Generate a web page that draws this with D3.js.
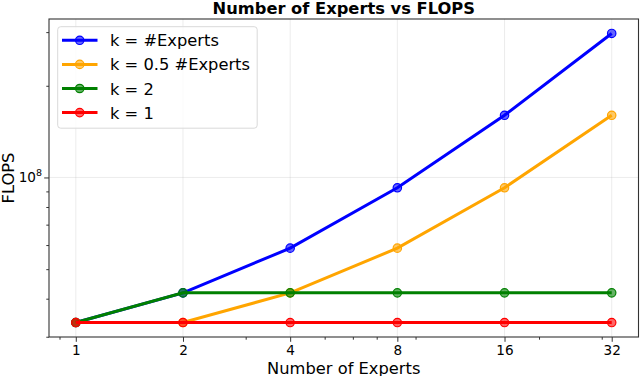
<!DOCTYPE html>
<html lang="en">
<head>
    <meta charset="UTF-8">
    <title>Number of Experts vs FLOPS</title>
    <style>
        body {
            margin: 0;
            background-color: white;
        }
        svg {
            font-family: "DejaVu Sans", sans-serif;
        }
    </style>
</head>
<body>
    <svg width="640" height="376"></svg>
    <script src="https://d3js.org/d3.v7.min.js"></script>
    <script>
        // data
        const experts = [1, 2, 4, 8, 16, 32];
        const flopsAll = [3.34e7, 4.18e7, 5.86e7, 9.25e7, 1.6e8, 2.97e8];
        const flopsHalf = [3.34e7, 3.34e7, 4.18e7, 5.86e7, 9.25e7, 1.6e8];
        const flopsTwo = [3.34e7, 4.18e7, 4.18e7, 4.18e7, 4.18e7, 4.18e7];
        const flopsOne = [3.34e7, 3.34e7, 3.34e7, 3.34e7, 3.34e7, 3.34e7];
        const seriesNames = ["k = #Experts", "k = 0.5 #Experts", "k = 2", "k = 1"];
        const seriesColors = ["#0000ff", "#ffa500", "#008000", "#ff0000"];
        const xMinorTicks = [0.9, 3, 5, 6, 7, 9, 20, 30];
        const yMajorTicks = [1e8];
        const yMinorTicks = [3e7, 4e7, 5e7, 6e7, 7e7, 8e7, 9e7, 2e8, 3e8];

        const series = [flopsAll, flopsHalf, flopsTwo, flopsOne].map((vals, i) => ({
            name: seriesNames[i],
            color: seriesColors[i],
            points: vals.map((v, j) => ({ x: experts[j], y: v }))
        }));

        const svg = d3.select("svg");
        const pLeft = 49, pRight = 638.5, pTop = 19, pBottom = 337;

        // matplotlib style 5% margins in log space
        const x = d3.scaleLog().base(2)
            .domain([Math.pow(2, -0.25), Math.pow(2, 5.25)])
            .range([pLeft, pRight]);
        const yLo = Math.log10(3.34e7), yHi = Math.log10(2.97e8), pad = (yHi - yLo) * 0.05;
        const y = d3.scaleLog()
            .domain([Math.pow(10, yLo - pad), Math.pow(10, yHi + pad)])
            .range([pBottom, pTop]);

        // grid
        const grid = svg.append("g").attr("stroke", "#b0b0b0").attr("stroke-opacity", 0.3).attr("stroke-width", 0.8);
        grid.selectAll(".gx").data(experts).join("line")
            .attr("x1", d => x(d)).attr("x2", d => x(d))
            .attr("y1", pTop).attr("y2", pBottom);
        grid.selectAll(".gy").data(yMajorTicks).join("line")
            .attr("x1", pLeft).attr("x2", pRight)
            .attr("y1", d => y(d)).attr("y2", d => y(d));

        // axes
        const xAxis = svg.append("g").attr("transform", `translate(0,${pBottom})`)
            .call(d3.axisBottom(x).tickValues(experts).tickFormat(d3.format("d")).tickSize(4.8).tickPadding(3.5));
        svg.append("g").attr("transform", `translate(0,${pBottom})`)
            .call(d3.axisBottom(x).tickValues(xMinorTicks).tickFormat("").tickSize(2.7));
        svg.append("g").attr("transform", `translate(${pLeft},0)`)
            .call(d3.axisLeft(y).tickValues(yMajorTicks).tickFormat("").tickSize(4.8));
        svg.append("g").attr("transform", `translate(${pLeft},0)`)
            .call(d3.axisLeft(y).tickValues(yMinorTicks.filter(v => y(v) >= pTop && y(v) <= pBottom)).tickFormat("").tickSize(2.7));

        xAxis.selectAll("text").attr("font-size", 13.6).attr("fill", "#000").attr("font-family", "DejaVu Sans");
        svg.selectAll(".domain").remove();
        svg.selectAll(".tick line").attr("stroke", "#333");

        // y tick label 10^8
        yMajorTicks.forEach(v => {
            const t = svg.append("text")
                .attr("x", pLeft - 7).attr("y", y(v) + 5)
                .attr("text-anchor", "end")
                .attr("font-size", 13.6);
            t.append("tspan").text("10");
            t.append("tspan").attr("font-size", 9.5).attr("dy", -6).text(Math.round(Math.log10(v)));
        });

        // series
        const line = d3.line().x(d => x(d.x)).y(d => y(d.y));
        series.forEach(s => {
            const g = svg.append("g");
            g.append("path").datum(s.points)
                .attr("d", line)
                .attr("fill", "none")
                .attr("stroke", s.color)
                .attr("stroke-width", 3);
            g.selectAll("circle").data(s.points).join("circle")
                .attr("cx", d => x(d.x)).attr("cy", d => y(d.y))
                .attr("r", 4.2)
                .attr("fill", s.color).attr("fill-opacity", 0.6)
                .attr("stroke", s.color).attr("stroke-width", 1.2);
        });

        // frame
        svg.append("rect")
            .attr("x", pLeft).attr("y", pTop)
            .attr("width", pRight - pLeft).attr("height", pBottom - pTop)
            .attr("fill", "none").attr("stroke", "#333").attr("stroke-width", 1.1);

        // labels
        svg.append("text")
            .attr("x", (pLeft + pRight) / 2).attr("y", 13.5)
            .attr("text-anchor", "middle")
            .attr("font-size", 16.3).attr("font-weight", "bold")
            .text("Number of Experts vs FLOPS");
        svg.append("text")
            .attr("x", (pLeft + pRight) / 2).attr("y", 373.5)
            .attr("text-anchor", "middle")
            .attr("font-size", 16.3)
            .text("Number of Experts");
        svg.append("text")
            .attr("transform", `translate(13.5,${(pTop + pBottom) / 2}) rotate(-90)`)
            .attr("text-anchor", "middle")
            .attr("font-size", 16.3)
            .text("FLOPS");

        // legend
        const legend = svg.append("g");
        legend.append("rect")
            .attr("x", 57.7).attr("y", 26.7)
            .attr("width", 199.5).attr("height", 101.5)
            .attr("rx", 3)
            .attr("fill", "white").attr("fill-opacity", 0.8)
            .attr("stroke", "#d9d9d9").attr("stroke-width", 1);
        series.forEach((s, i) => {
            const ly = 40.3 + i * 24.1;
            legend.append("line")
                .attr("x1", 62).attr("x2", 97.5)
                .attr("y1", ly).attr("y2", ly)
                .attr("stroke", s.color).attr("stroke-width", 3);
            legend.append("circle")
                .attr("cx", 79.7).attr("cy", ly).attr("r", 4.2)
                .attr("fill", s.color).attr("fill-opacity", 0.6)
                .attr("stroke", s.color).attr("stroke-width", 1.2);
            legend.append("text")
                .attr("x", 110).attr("y", ly + 6)
                .attr("font-size", 16.3)
                .text(s.name);
        });
    </script>
</body>
</html>
